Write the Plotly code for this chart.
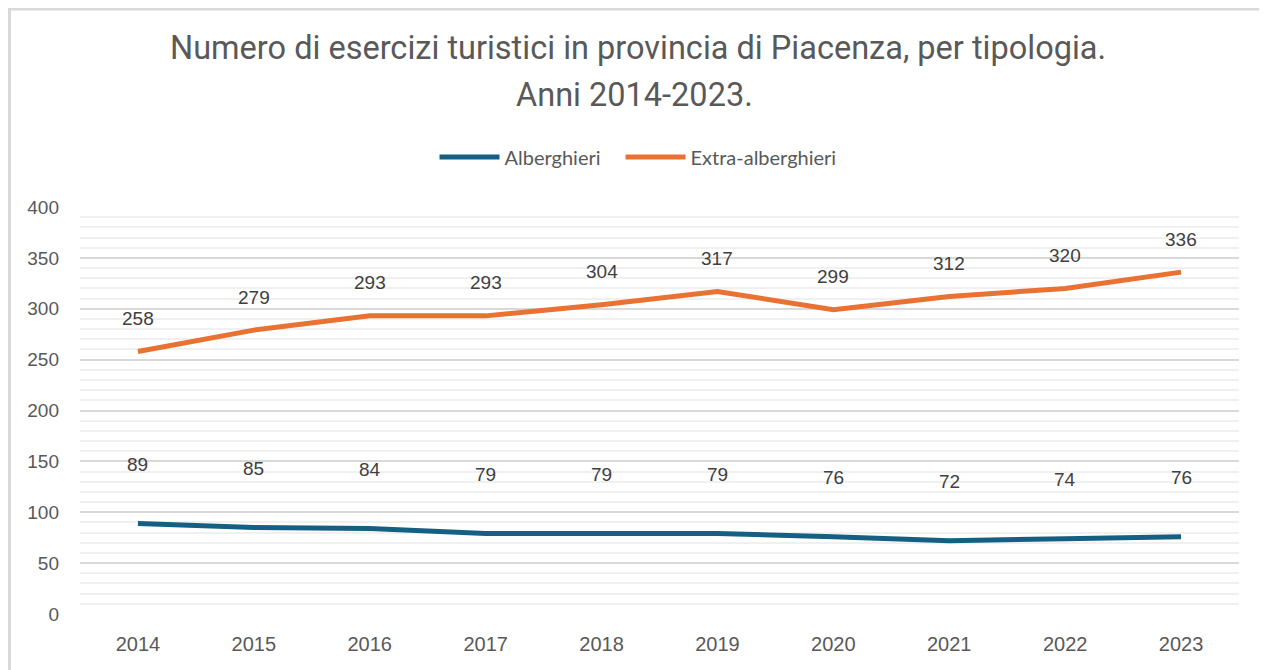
import plotly.graph_objects as go

years = ["2014", "2015", "2016", "2017", "2018", "2019", "2020", "2021", "2022", "2023"]
alberghieri = [89, 85, 84, 79, 79, 79, 76, 72, 74, 76]
extra_alberghieri = [258, 279, 293, 293, 304, 317, 299, 312, 320, 336]
y_ticks = [0, 50, 100, 150, 200, 250, 300, 350, 400]

# page body has an 8px margin: size/margins compensate so the plot lands where the reference has it
W, H = 1259, 662
ML, MR, MT, MB = 72, 28, 199, 56
PW, PH = W - ML - MR, H - MT - MB


def py(fig_y):
    """paper y for a pixel row measured from top of figure"""
    return 1 + (MT - fig_y) / PH


def px(fig_x):
    return (fig_x - ML) / PW


fig = go.Figure()
fig.add_trace(go.Scatter(x=years, y=alberghieri, mode="lines", name="Alberghieri\u2003",
                         line=dict(color="#156082", width=5)))
fig.add_trace(go.Scatter(x=years, y=extra_alberghieri, mode="lines", name="Extra-alberghieri",
                         line=dict(color="#E97132", width=5)))

for series, shift in ((alberghieri, 59), (extra_alberghieri, 33)):
    for i, v in enumerate(series):
        fig.add_annotation(x=i, y=v, text=str(v), showarrow=False, yshift=shift,
                           font=dict(family="Liberation Sans, Arial", size=19, color="#404040"))

fig.add_annotation(xref="paper", yref="paper", x=px(630), y=py(40), xanchor="center", yanchor="middle",
                   text="Numero di esercizi turistici in provincia di Piacenza, per tipologia.",
                   showarrow=False, font=dict(family="Roboto", size=32.5, color="#595959"))
fig.add_annotation(xref="paper", yref="paper", x=px(626), y=py(87), xanchor="center", yanchor="middle",
                   text="Anni 2014-2023.",
                   showarrow=False, font=dict(family="Roboto", size=32.5, color="#595959"))

fig.add_shape(type="line", xref="paper", yref="paper", x0=px(0), x1=px(W), y0=py(1), y1=py(1),
              line=dict(color="#d9d9d9", width=3))
fig.add_shape(type="line", xref="paper", yref="paper", x0=px(1.5), x1=px(1.5), y0=py(H), y1=py(1),
              line=dict(color="#d9d9d9", width=3))

fig.update_layout(
    width=W, height=H,
    margin=dict(l=ML, r=MR, t=MT, b=MB),
    paper_bgcolor="white", plot_bgcolor="white",
    legend=dict(orientation="h", x=px(630), xanchor="center", y=py(149), yanchor="middle",
                font=dict(family="Lato", size=20, color="#595959"), itemwidth=60),
    showlegend=True,
    xaxis=dict(type="category", range=[-0.5, 9.5], showgrid=False, showline=False, zeroline=False,
               ticks="", ticklabelstandoff=16,
               tickfont=dict(family="Liberation Sans, Arial", size=20, color="#595959")),
    yaxis=dict(range=[0, 400], tickvals=y_ticks, showgrid=True, gridcolor="#d9d9d9", gridwidth=2,
               zeroline=False, showline=False, ticks="", ticklabelstandoff=20,
               minor=dict(dtick=10, showgrid=True, gridcolor="#f0f0f0", gridwidth=2),
               tickfont=dict(family="Liberation Sans, Arial", size=19, color="#595959")),
)

fig.write_html("out.html")
